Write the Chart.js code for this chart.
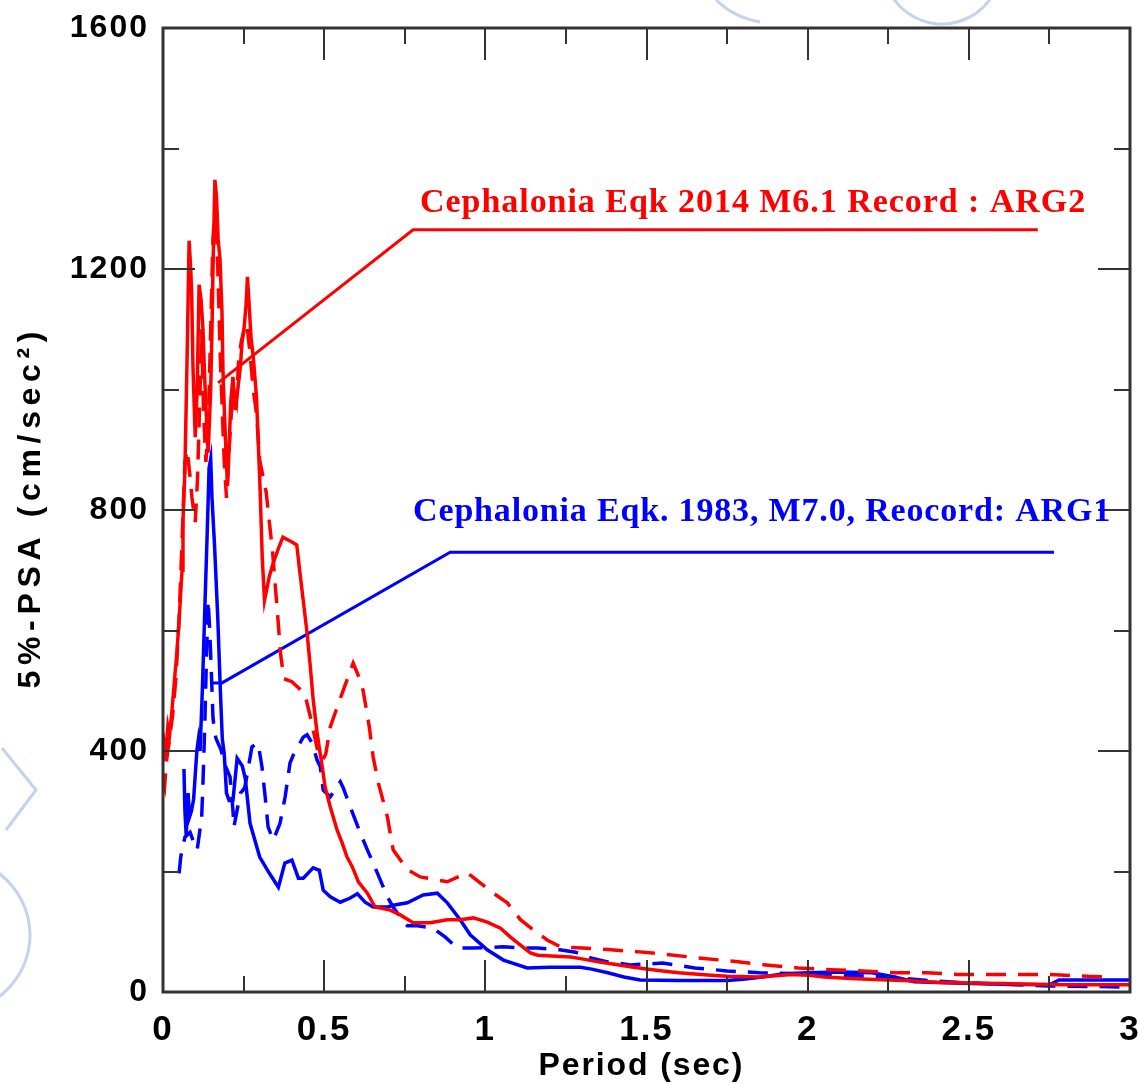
<!DOCTYPE html>
<html><head><meta charset="utf-8">
<script src="https://cdn.jsdelivr.net/npm/chart.js@4.4.0/dist/chart.umd.min.js"></script>
<style>html,body{margin:0;padding:0;background:#fff;} #wrap{width:1140px;height:1084px;}</style>
</head><body><div id="wrap"><canvas id="c" width="1140" height="1084"></canvas></div>
<script>
// ---------- data ----------
const xTicks = [0, 0.5, 1, 1.5, 2, 2.5, 3];
const xMinorTicks = [0.25, 0.75, 1.25, 1.75, 2.25, 2.75];
const yTicks = [0, 400, 800, 1200, 1600];
const yMinorTicks = [200, 600, 1000, 1400];

const xTitle = "Period (sec)";
const yTitle = "5%-PSA (cm/sec²)";
const label2014 = "Cephalonia Eqk 2014 M6.1 Record : ARG2";
const label1983 = "Cephalonia Eqk. 1983, M7.0, Reocord: ARG1";

// 2014 record ARG2, component 1 (solid red)
const arg2Solid = [[0,430],[0.005,395],[0.01,405],[0.015,440],[0.02,425],[0.028,468],[0.036,520],[0.043,563],[0.05,617],[0.059,700],[0.062,783],[0.068,866],[0.075,1060],[0.081,1247],[0.086,1200],[0.089,1160],[0.093,1037],[0.1,921],[0.106,1000],[0.112,1174],[0.118,1150],[0.124,1100],[0.13,1010],[0.137,928],[0.14,895],[0.148,1000],[0.152,1100],[0.155,1198],[0.161,1348],[0.166,1320],[0.171,1250],[0.177,1215],[0.183,1127],[0.186,1032],[0.192,940],[0.2,840],[0.205,900],[0.21,978],[0.217,1021],[0.224,966],[0.232,1000],[0.24,1037],[0.245,1077],[0.252,1104],[0.258,1143],[0.262,1187],[0.267,1143],[0.273,1087],[0.28,1054],[0.29,988],[0.295,921],[0.301,838],[0.308,720],[0.315,650],[0.33,690],[0.342,712],[0.36,739],[0.372,755],[0.4,747],[0.415,742],[0.425,695],[0.435,650],[0.447,596],[0.457,540],[0.466,485],[0.478,430],[0.494,374],[0.503,340],[0.519,307],[0.54,269],[0.556,247],[0.571,224],[0.587,208],[0.606,183],[0.634,164],[0.658,141],[0.705,136],[0.736,128],[0.776,115],[0.829,115],[0.882,120],[0.922,120],[0.963,123],[1.006,116],[1.047,106],[1.078,91],[1.109,78],[1.14,65],[1.162,61],[1.264,58],[1.3,55],[1.35,50],[1.4,46],[1.45,42],[1.5,38],[1.55,35],[1.6,32],[1.65,30],[1.7,28],[1.75,26],[1.85,25],[1.9,27],[1.95,29],[2.0,28],[2.05,25],[2.15,22],[2.25,20],[2.3,19],[2.4,16],[2.5,15],[2.6,14],[2.7,13],[2.8,12],[2.9,12],[3.0,12]];

// 2014 record ARG2, component 2 (dashed red)
const arg2Dashed = [[0,350],[0.005,340],[0.01,380],[0.02,420],[0.03,460],[0.04,520],[0.05,620],[0.06,760],[0.068,880],[0.075,900],[0.083,860],[0.09,820],[0.1,780],[0.107,850],[0.115,1000],[0.12,1100],[0.126,960],[0.133,880],[0.14,930],[0.148,1100],[0.155,1250],[0.163,1310],[0.17,1200],[0.178,1050],[0.185,950],[0.19,880],[0.197,820],[0.205,900],[0.212,960],[0.22,1000],[0.228,980],[0.235,1050],[0.243,1080],[0.252,1100],[0.26,1110],[0.27,1060],[0.28,1000],[0.29,960],[0.3,883],[0.32,830],[0.34,730],[0.355,630],[0.365,560],[0.375,520],[0.4,515],[0.42,505],[0.44,495],[0.46,450],[0.48,400],[0.495,385],[0.505,395],[0.519,440],[0.534,463],[0.556,496],[0.571,518],[0.59,546],[0.61,520],[0.621,500],[0.64,440],[0.652,390],[0.668,347],[0.696,291],[0.714,236],[0.758,203],[0.798,191],[0.882,183],[0.944,198],[0.984,181],[1.025,164],[1.068,148],[1.109,120],[1.149,103],[1.193,86],[1.233,75],[1.3,73],[1.39,70],[1.47,67],[1.57,62],[1.67,56],[1.77,51],[1.87,45],[1.97,40],[2.07,37],[2.17,35],[2.27,32],[2.37,32],[2.47,29],[2.6,29],[2.75,29],[2.87,26],[2.95,25]];

// 1983 record ARG1, component 1 (solid blue)
const arg1Solid = [[0.065,370],[0.068,300],[0.072,260],[0.078,330],[0.082,290],[0.088,300],[0.095,320],[0.1,360],[0.105,400],[0.11,420],[0.115,400],[0.122,500],[0.13,640],[0.137,760],[0.143,870],[0.148,885],[0.152,820],[0.16,740],[0.17,620],[0.178,500],[0.184,420],[0.19,395],[0.197,330],[0.205,318],[0.217,318],[0.23,388],[0.246,375],[0.255,355],[0.27,280],[0.3,224],[0.33,197],[0.358,174],[0.378,214],[0.4,219],[0.42,189],[0.435,189],[0.466,206],[0.485,202],[0.497,169],[0.519,158],[0.55,149],[0.581,156],[0.603,163],[0.627,149],[0.652,141],[0.696,141],[0.714,144],[0.758,148],[0.807,161],[0.851,164],[0.882,148],[0.922,120],[0.953,95],[1.006,70],[1.056,53],[1.13,40],[1.2,41],[1.295,41],[1.33,38],[1.38,32],[1.43,25],[1.48,20],[1.6,19],[1.75,19],[1.8,21],[1.86,25],[1.92,30],[2.0,32],[2.1,33],[2.2,32],[2.27,25],[2.33,17],[2.45,15],[2.6,13],[2.75,12],[2.78,20],[3.0,20]];

// 1983 record ARG1, component 2 (dashed blue)
const arg1Dashed = [[0.05,197],[0.055,224],[0.068,257],[0.084,265],[0.093,252],[0.106,236],[0.12,290],[0.124,347],[0.13,450],[0.135,560],[0.14,650],[0.145,600],[0.148,560],[0.155,456],[0.16,430],[0.165,420],[0.18,402],[0.19,380],[0.208,357],[0.217,302],[0.22,274],[0.24,330],[0.248,335],[0.254,340],[0.276,407],[0.295,413],[0.307,374],[0.317,324],[0.326,274],[0.342,252],[0.363,280],[0.379,324],[0.394,380],[0.404,393],[0.435,423],[0.447,427],[0.463,413],[0.478,385],[0.488,374],[0.497,335],[0.519,324],[0.55,349],[0.559,339],[0.581,307],[0.612,264],[0.634,236],[0.652,214],[0.674,186],[0.696,158],[0.714,141],[0.742,120],[0.758,110],[0.789,110],[0.838,106],[0.876,91],[0.913,73],[0.963,73],[1.056,75],[1.109,73],[1.162,73],[1.23,70],[1.28,66],[1.33,56],[1.38,50],[1.45,45],[1.55,48],[1.65,40],[1.75,35],[1.85,32],[2.0,30],[2.25,25],[2.4,18],[2.5,15],[2.75,10],[2.9,9],[3.0,8]];

// leader lines from curves to labels
const leader2014 = [[0.171,1011],[0.776,1265],[2.714,1265]];
const leader1983 = [[0.15,513],[0.183,513],[0.891,730],[2.764,730]];
// label anchor (centre) positions in data units
const label2014Pos = [1.829, 1310];
const label1983Pos = [1.857, 797];

// ---------- chart ----------
const RED = '#ff0000', BLUE = '#0000ff';
const toXY = arr => arr.map(p => ({x: p[0], y: p[1]}));
const lineDs = (pts, color, dash, width) => ({
  data: toXY(pts), borderColor: color, borderWidth: width, borderDash: dash,
  pointRadius: 0, fill: false, tension: 0, borderCapStyle: 'butt', borderJoinStyle: 'miter'
});

// draws text centred on (cx,cy), spread with letter spacing to a target width
function spacedText(ctx, txt, cx, cy, font, color, targetW, rot) {
  ctx.save();
  ctx.font = font;
  ctx.letterSpacing = '0px';
  const w0 = ctx.measureText(txt).width;
  const n = txt.length;
  const sp = (targetW - w0) / (n - 1);
  ctx.translate(cx, cy);
  if (rot) ctx.rotate(rot);
  ctx.fillStyle = color;
  ctx.textAlign = 'left';
  ctx.textBaseline = 'middle';
  if (sp >= 0) {
    ctx.letterSpacing = sp.toFixed(2) + 'px';
    ctx.fillText(txt, -targetW / 2, 0);
  } else {
    ctx.scale(targetW / w0, 1);
    ctx.fillText(txt, -w0 / 2, 0);
  }
  ctx.restore();
}

const backPlugin = {
  id: 'back',
  beforeDraw(chart) {
    const ctx = chart.ctx;
    ctx.letterSpacing = '2px';
    // faint page-border watermark strokes
    ctx.save();
    ctx.strokeStyle = '#c3d3ef';
    ctx.lineWidth = 3;
    ctx.beginPath(); ctx.ellipse(942, -38, 60, 62, 0, 0.15 * Math.PI, 0.85 * Math.PI); ctx.stroke();
    ctx.beginPath(); ctx.moveTo(716, 0); ctx.quadraticCurveTo(735, 18, 760, 22); ctx.stroke();
    ctx.beginPath(); ctx.moveTo(2, 748); ctx.lineTo(36, 790); ctx.lineTo(6, 830); ctx.stroke();
    ctx.beginPath(); ctx.ellipse(-55, 935, 85, 80, 0, -0.45 * Math.PI, 0.45 * Math.PI); ctx.stroke();
    ctx.restore();
  }
};

const framePlugin = {
  id: 'frameTicks',
  afterDatasetsDraw(chart) {
    const {ctx, chartArea: a, scales: {x, y}} = chart;
    ctx.save();
    ctx.strokeStyle = '#333';
    ctx.lineWidth = 2;
    const seg = (x1, y1, x2, y2) => { ctx.beginPath(); ctx.moveTo(x1, y1); ctx.lineTo(x2, y2); ctx.stroke(); };
    const MAJ = 32, MIN = 16;
    xTicks.forEach(v => { const p = Math.round(x.getPixelForValue(v)); seg(p, a.bottom, p, a.bottom - MAJ); seg(p, a.top, p, a.top + MAJ); });
    xMinorTicks.forEach(v => { const p = Math.round(x.getPixelForValue(v)); seg(p, a.bottom, p, a.bottom - MIN); seg(p, a.top, p, a.top + MIN); });
    yTicks.forEach(v => { const p = Math.round(y.getPixelForValue(v)); seg(a.left, p, a.left + MAJ, p); seg(a.right, p, a.right - MAJ, p); });
    yMinorTicks.forEach(v => { const p = Math.round(y.getPixelForValue(v)); seg(a.left, p, a.left + MIN, p); seg(a.right, p, a.right - MIN, p); });
    ctx.lineWidth = 3;
    ctx.strokeRect(a.left, a.top, a.right - a.left, a.bottom - a.top);
    ctx.restore();

    const serif = 'bold 34px "Liberation Serif", "Times New Roman", serif';
    const sans = 'bold 32px "Liberation Sans", Arial, sans-serif';
    spacedText(ctx, label2014, x.getPixelForValue(label2014Pos[0]), y.getPixelForValue(label2014Pos[1]), serif, RED, 665, 0);
    spacedText(ctx, label1983, x.getPixelForValue(label1983Pos[0]), y.getPixelForValue(label1983Pos[1]), serif, BLUE, 697, 0);
    spacedText(ctx, xTitle, (a.left + a.right) / 2 - 6, 1066, sans, '#000', 204, 0);
    spacedText(ctx, yTitle, 31, (a.top + a.bottom) / 2, sans, '#000', 357, -Math.PI / 2);
  }
};

new Chart(document.getElementById('c'), {
  type: 'line',
  data: {
    datasets: [
      lineDs(arg2Dashed, RED, [20, 12], 3.5),
      lineDs(arg2Solid, RED, [], 3.5),
      lineDs(leader2014, RED, [], 3),
      lineDs(arg1Dashed, BLUE, [20, 12], 3.5),
      lineDs(arg1Solid, BLUE, [], 3.5),
      lineDs(leader1983, BLUE, [], 3)
    ]
  },
  options: {
    responsive: false,
    animation: false,
    devicePixelRatio: 1,
    layout: {padding: {left: 0, top: 28, right: 10, bottom: 0}},
    plugins: {legend: {display: false}, tooltip: {enabled: false}},
    scales: {
      x: {
        type: 'linear', min: 0, max: 3,
        afterFit: s => { s.height = 92; s.paddingLeft = 0; s.paddingRight = 0; },
        afterBuildTicks: s => { s.ticks = xTicks.map(v => ({value: v})); },
        grid: {display: false, drawTicks: false},
        border: {display: false},
        ticks: {color: '#000', font: {family: '"Liberation Sans", Arial, sans-serif', size: 35, weight: 'bold', lineHeight: 1.2},
                padding: 17, maxRotation: 0, callback: v => String(v)},
        title: {display: false}
      },
      y: {
        type: 'linear', min: 0, max: 1600,
        afterFit: s => { s.width = 163; s.paddingTop = 0; s.paddingBottom = 0; },
        afterBuildTicks: s => { s.ticks = yTicks.map(v => ({value: v})); },
        grid: {display: false, drawTicks: false},
        border: {display: false},
        ticks: {color: '#000', font: {family: '"Liberation Sans", Arial, sans-serif', size: 32, weight: 'bold', lineHeight: 1.2},
                padding: 14, callback: v => String(v)},
        title: {display: false}
      }
    }
  },
  plugins: [backPlugin, framePlugin]
});
</script>
</body></html>
